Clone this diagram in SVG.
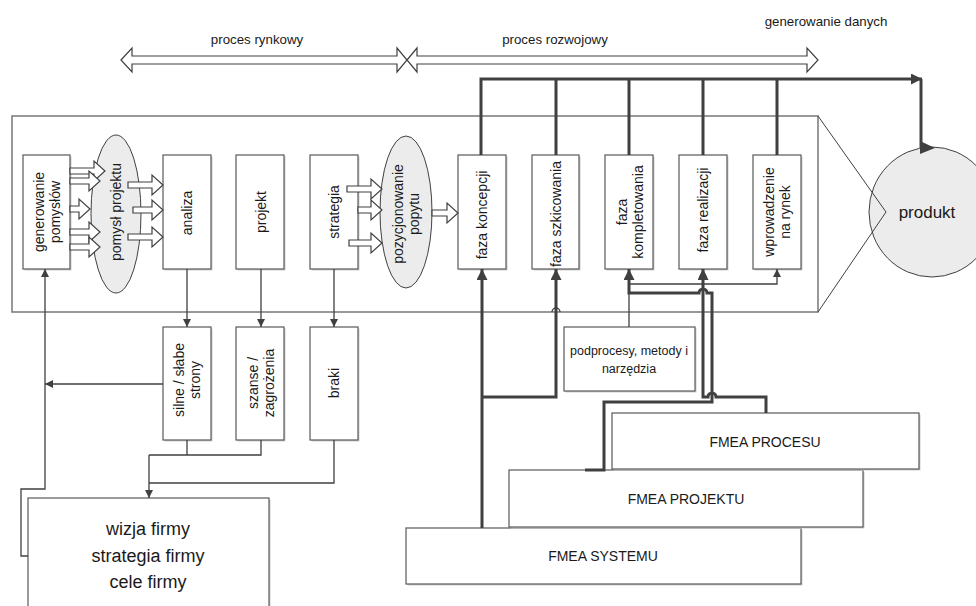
<svg xmlns="http://www.w3.org/2000/svg" width="976" height="606" viewBox="0 0 976 606">
<style>
text{font-family:"Liberation Sans",Arial,sans-serif;fill:#1a1a1a}
.box{fill:#fff;stroke:#595959;stroke-width:1.2}
.sh{fill:#cfcfcf}
.ell{fill:#ececec;stroke:#404040;stroke-width:1}
.blk{fill:#fff;stroke:#404040;stroke-width:1.2}
.thin{fill:none;stroke:#404040;stroke-width:1.3}
.thick{fill:none;stroke:#404040;stroke-width:3}
.nt{font-size:14px;text-anchor:middle}
.ft{font-size:14px;text-anchor:middle}
.hd{font-size:13.3px;text-anchor:middle}
</style>
<defs>
<marker id="a1" viewBox="0 0 10 10" refX="10" refY="5" markerWidth="11" markerHeight="8" markerUnits="userSpaceOnUse" orient="auto"><path d="M0,0 L10,5 L0,10 z" fill="#404040"/></marker>
<marker id="a2" viewBox="0 0 10 10" refX="10" refY="5" markerWidth="13" markerHeight="11" markerUnits="userSpaceOnUse" orient="auto"><path d="M0,0 L10,5 L0,10 z" fill="#404040"/></marker>
</defs>

<!-- top process arrows -->
<g id="proces-rynkowy">
<polygon class="blk" points="121,60 132,48 132,56 397,56 397,48 407,60 397,72 397,64 132,64 132,72"/>
<text class="hd" x="257" y="44">proces rynkowy</text>
</g>
<g id="proces-rozwojowy">
<polygon class="blk" points="407,60 417,48 417,56 807,56 807,48 818,60 807,72 807,64 417,64 417,72"/>
<text class="hd" x="555" y="44">proces rozwojowy</text>
</g>
<g id="generowanie-danych">
<text class="hd" x="826" y="26">generowanie danych</text>
</g>

<!-- container and product -->
<g id="kontener">
<rect x="12" y="116" width="806" height="196" fill="none" stroke="#7f7f7f" stroke-width="1.6"/>
</g>
<g id="produkt">
<ellipse cx="932" cy="212" rx="63" ry="65" fill="#ececec" stroke="#404040" stroke-width="1"/>
<text x="927" y="218" style="font-size:17px;text-anchor:middle">produkt</text>
</g>
<polyline points="818,116 886,212 818,312" fill="none" stroke="#404040" stroke-width="1"/>

<!-- nodes -->
<g id="generowanie-pomyslow">
<rect class="sh" x="24.5" y="156.5" width="47" height="114"/>
<rect class="box" x="23" y="155" width="47" height="114"/>
<text class="nt" transform="translate(46.5,212) rotate(-90)"><tspan x="0" y="-3">generowanie</tspan><tspan x="0" y="13">pomysłów</tspan></text>
</g>
<g id="pomysl-projektu">
<ellipse class="ell" cx="116" cy="214" rx="25" ry="79"/>
<text class="nt" transform="translate(116,212) rotate(-90)" y="5">pomysł projektu</text>
</g>
<g id="analiza">
<rect class="sh" x="164.5" y="156.5" width="48" height="114"/>
<rect class="box" x="163" y="155" width="48" height="114"/>
<text class="nt" transform="translate(187,213) rotate(-90)" y="5">analiza</text>
</g>
<g id="projekt">
<rect class="sh" x="237.5" y="156.5" width="48" height="114"/>
<rect class="box" x="236" y="155" width="48" height="114"/>
<text class="nt" transform="translate(261,212) rotate(-90)" y="5">projekt</text>
</g>
<g id="strategia">
<rect class="sh" x="311.5" y="156.5" width="48" height="114"/>
<rect class="box" x="310" y="155" width="48" height="114"/>
<text class="nt" transform="translate(334,212) rotate(-90)" y="5">strategia</text>
</g>
<g id="pozycjonowanie-popytu">
<ellipse class="ell" cx="406" cy="212" rx="26" ry="76"/>
<text class="nt" transform="translate(406,214) rotate(-90)"><tspan x="0" y="-3">pozycjonowanie</tspan><tspan x="0" y="13">popytu</tspan></text>
</g>
<g id="faza-koncepcji">
<rect class="sh" x="459.5" y="156.5" width="48" height="114"/>
<rect class="box" x="458" y="155" width="48" height="114"/>
<text class="nt" transform="translate(482,215) rotate(-90)" y="5">faza koncepcji</text>
</g>
<g id="faza-szkicowania">
<rect class="sh" x="533.5" y="156.5" width="47" height="114"/>
<rect class="box" x="532" y="155" width="47" height="114"/>
<text class="nt" transform="translate(556,214) rotate(-90)" y="5">faza szkicowania</text>
</g>
<g id="faza-kompletowania">
<rect class="sh" x="606.5" y="156.5" width="48" height="114"/>
<rect class="box" x="605" y="155" width="48" height="114"/>
<text class="nt" transform="translate(630,212) rotate(-90)"><tspan x="0" y="-3">faza</tspan><tspan x="0" y="13">kompletowania</tspan></text>
</g>
<g id="faza-realizacji">
<rect class="sh" x="680.5" y="156.5" width="48" height="114"/>
<rect class="box" x="679" y="155" width="48" height="114"/>
<text class="nt" transform="translate(703,210) rotate(-90)" y="5">faza realizacji</text>
</g>
<g id="wprowadzenie-na-rynek">
<rect class="sh" x="754.5" y="156.5" width="48" height="114"/>
<rect class="box" x="753" y="155" width="48" height="114"/>
<text class="nt" transform="translate(777,212) rotate(-90)"><tspan x="0" y="-3">wprowadzenie</tspan><tspan x="0" y="13">na rynek</tspan></text>
</g>

<g id="silne-slabe-strony">
<rect class="sh" x="164.5" y="328.5" width="48" height="113"/>
<rect class="box" x="163" y="327" width="48" height="113"/>
<text class="nt" transform="translate(187,380) rotate(-90)"><tspan x="0" y="-3">silne / słabe</tspan><tspan x="0" y="13">strony</tspan></text>
</g>
<g id="szanse-zagrozenia">
<rect class="sh" x="237.5" y="328.5" width="48" height="113"/>
<rect class="box" x="236" y="327" width="48" height="113"/>
<text class="nt" transform="translate(261,383) rotate(-90)"><tspan x="0" y="-3">szanse /</tspan><tspan x="0" y="13">zagrożenia</tspan></text>
</g>
<g id="braki">
<rect class="sh" x="311.5" y="328.5" width="48" height="113"/>
<rect class="box" x="310" y="327" width="48" height="113"/>
<text class="nt" transform="translate(334,383) rotate(-90)" y="5">braki</text>
</g>

<g id="wizja-firmy">
<rect class="sh" x="29.5" y="499.5" width="241" height="120"/>
<rect class="box" x="28" y="498" width="241" height="120"/>
<text x="148" y="535" style="font-size:18px;text-anchor:middle">wizja firmy</text>
<text x="148" y="562" style="font-size:18px;text-anchor:middle">strategia firmy</text>
<text x="148" y="588" style="font-size:18px;text-anchor:middle">cele firmy</text>
</g>

<g id="podprocesy">
<rect class="sh" x="565.5" y="328.5" width="131" height="64"/>
<rect class="box" x="564" y="327" width="131" height="64"/>
<text x="629" y="355" style="font-size:12.5px;text-anchor:middle">podprocesy, metody i</text>
<text x="629" y="373" style="font-size:12.5px;text-anchor:middle">narzędzia</text>
</g>

<g id="fmea-systemu">
<rect class="sh" x="407.5" y="529.5" width="395" height="56"/>
<rect class="box" x="406" y="528" width="395" height="56"/>
<text class="ft" x="603" y="561">FMEA SYSTEMU</text>
</g>
<g id="fmea-projektu">
<rect class="sh" x="510.5" y="471.5" width="354" height="57"/>
<rect class="box" x="509" y="470" width="354" height="57"/>
<text class="ft" x="686" y="504">FMEA PROJEKTU</text>
</g>
<g id="fmea-procesu">
<rect class="sh" x="613.5" y="414.5" width="307" height="56"/>
<rect class="box" x="612" y="413" width="307" height="56"/>
<text class="ft" x="765" y="447">FMEA PROCESU</text>
</g>

<!-- connectors -->
<g id="connectors">
<!-- block arrows -->
<polygon class="blk" points="70,168 94,168 94,161 105,171 94,181 94,174 70,174"/>
<polygon class="blk" points="70,178 89,178 89,171 100,181 89,191 89,184 70,184"/>
<polygon class="blk" points="70,206 79,206 79,199 90,209 79,219 79,212 70,212"/>
<polygon class="blk" points="70,229 89,229 89,222 100,232 89,242 89,235 70,235"/>
<polygon class="blk" points="70,244 89,244 89,237 100,247 89,257 89,250 70,250"/>
<polygon class="blk" points="128,182 152,182 152,175 163,185 152,195 152,188 128,188"/>
<polygon class="blk" points="133,207 152,207 152,200 163,210 152,220 152,213 133,213"/>
<polygon class="blk" points="128,234 152,234 152,227 163,237 152,247 152,240 128,240"/>
<polygon class="blk" points="347,186 371,186 371,179 382,189 371,199 371,192 347,192"/>
<polygon class="blk" points="358,207 371,207 371,200 382,210 371,220 371,213 358,213"/>
<polygon class="blk" points="349,240 371,240 371,233 382,243 371,253 371,246 349,246"/>
<polygon class="blk" points="432,210 447,210 447,203 458,213 447,223 447,216 432,216"/>

<!-- data bus -->
<path class="thick" d="M481,155 V79 H922" marker-end="url(#a2)"/>
<path class="thick" d="M556,79 V155 M629,79 V155 M703,79 V155 M777,79 V155"/>
<path class="thick" d="M921,79 V148"/>
<polygon points="920,141 935,148 920,154" fill="#404040"/>

<!-- thin -->
<path class="thin" d="M187,269 V327" marker-end="url(#a1)"/>
<path class="thin" d="M261,269 V327" marker-end="url(#a1)"/>
<path class="thin" d="M334,269 V327" marker-end="url(#a1)"/>
<path class="thin" d="M163,384 H45" marker-end="url(#a1)"/>
<path class="thin" d="M28,556 H21 V489 H45 V269" marker-end="url(#a1)"/>
<path class="thin" d="M187,440 V455 H149 M261,440 V455 H187 M334,440 V483 H149"/>
<path class="thin" d="M149,455 V498" marker-end="url(#a1)"/>
<path class="thin" d="M629,327 V284 H777 V269" marker-end="url(#a1)"/>
<path class="thin" d="M703,284 V269" marker-end="url(#a1)"/>
<path class="thin" d="M552,312 A4,4 0 0 1 560,312"/>

<!-- thick from FMEA -->
<path class="thick" d="M482,528 V269" marker-end="url(#a2)"/>
<path class="thick" d="M482,397 H556 V269" marker-end="url(#a2)"/>
<path class="thick" d="M766,413 V397 H716 A4,4 0 0 0 708,397 H703 V269" marker-end="url(#a2)"/>
<path class="thick" d="M585,470 H604 V402 H712 V293 H707 A4,4 0 0 0 699,293 H629 V269" marker-end="url(#a2)"/>
</g>
</svg>
